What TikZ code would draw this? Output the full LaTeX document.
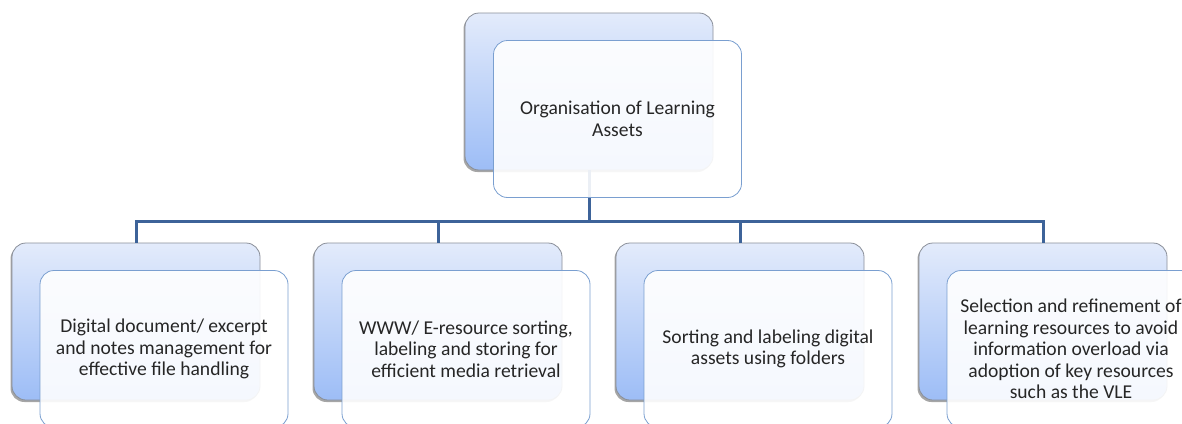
\documentclass[tikz,border=0pt]{standalone}
\usepackage{fontspec}
\setmainfont{Carlito}
\usetikzlibrary{shadows}
\definecolor{conn}{HTML}{3D6399}
\definecolor{backtop}{HTML}{E3EBFB}
\definecolor{backbot}{HTML}{9DBDF6}
\definecolor{backline}{HTML}{8A8F99}
\definecolor{frontline}{HTML}{7A9FD0}
\begin{document}
\begin{tikzpicture}[x=1pt,y=-1pt,
  backbox/.style={draw=backline, line width=0.8pt, rounded corners=14pt,
    top color=backtop, bottom color=backbot,
    minimum width=248pt, minimum height=157pt, inner sep=0pt,
    drop shadow={shadow xshift=-1.5pt, shadow yshift=-2pt, fill=black, opacity=0.35}},
  frontbox/.style={draw=frontline, line width=0.8pt, rounded corners=14pt,
    fill=white, fill opacity=0.9, text opacity=1,
    minimum width=248pt, minimum height=157pt, inner sep=0pt, align=center,
    font=\fontsize{19.6}{21.5}\selectfont, text=black!85},
  link/.style={draw=conn, line width=3pt}]
\useasboundingbox (0,0) rectangle (1182,423);
\clip (0,0) rectangle (1182,423);
\fill[white] (0,0) rectangle (1182,423);
% back boxes
\node[backbox] (tb) at (589,91.5) {};
\node[backbox] (b1) at (136,321.5) {};
\node[backbox] (b2) at (438,321.5) {};
\node[backbox] (b3) at (740,321.5) {};
\node[backbox] (b4) at (1043,321.5) {};
% connectors
\coordinate (hub) at (589,221);
\draw[link] (tb.south) -- (tb.south |- hub);
\draw[link] (b1.north) -- (b1.north |- hub) -- (b4.north |- hub) -- (b4.north);
\draw[link] (b2.north |- hub) -- (b2.north);
\draw[link] (b3.north |- hub) -- (b3.north);
% front boxes
\node[frontbox] (tf) at (617.5,119) {Organisation of Learning\\Assets};
\node[frontbox] (f1) at (164,349) {Digital document/ excerpt\\and notes\ management for\\effective file handling};
\node[frontbox] (f2) at (466,349) {WWW/ E-resource sorting,\\labeling and storing for\\efficient media retrieval};
\node[frontbox] (f3) at (768,349) {Sorting and labeling digital\\assets using folders};
\node[frontbox] (f4) at (1071,349) {Selection and refinement of\\learning resources to avoid\\information overload via\\adoption of key resources\\such as the VLE};
\end{tikzpicture}
\end{document}
